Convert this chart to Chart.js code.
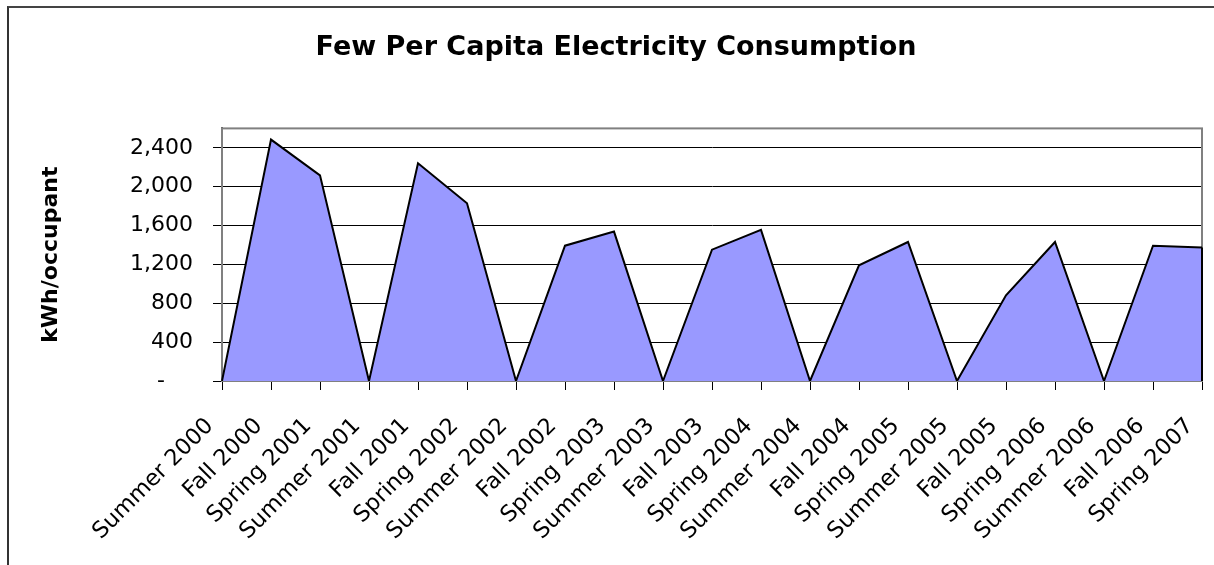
<!DOCTYPE html>
<html>
<head>
<meta charset="utf-8">
<script src="https://cdn.jsdelivr.net/npm/chart.js@4.4.1/dist/chart.umd.min.js"></script>
<style>
  html, body { margin: 0; padding: 0; background: #fff; }
  #wrap { position: relative; width: 1214px; height: 565px; overflow: hidden; }
  #frame { position: absolute; left: 7px; top: 6px; width: 1300px; height: 700px;
           border-left: 2px solid #333; border-top: 2px solid #444; box-sizing: border-box; }
  canvas { position: absolute; left: 0; top: 0; }
</style>
</head>
<body>
<div id="wrap">
  <div id="frame"></div>
  <canvas id="chart" width="1214" height="565"></canvas>
</div>
<script>
const seasons = [
  'Summer 2000', 'Fall 2000', 'Spring 2001',
  'Summer 2001', 'Fall 2001', 'Spring 2002',
  'Summer 2002', 'Fall 2002', 'Spring 2003',
  'Summer 2003', 'Fall 2003', 'Spring 2004',
  'Summer 2004', 'Fall 2004', 'Spring 2005',
  'Summer 2005', 'Fall 2005', 'Spring 2006',
  'Summer 2006', 'Fall 2006', 'Spring 2007'
];
const kwhPerOccupant = [
  0, 2485, 2117,
  0, 2241, 1829,
  0, 1393, 1538,
  0, 1352, 1555,
  0, 1191, 1431,
  0, 882, 1431,
  0, 1393, 1373
];
const yTicks = [0, 400, 800, 1200, 1600, 2000, 2400];
const yMax = 2600;

const FONT = "'DejaVu Sans', 'Liberation Sans', Arial, sans-serif";

// gray frame round the plot area, like the Excel plot border
const plotFrame = {
  id: 'plotFrame',
  beforeDatasetsDraw(chart) {
    const { ctx, chartArea: a } = chart;
    ctx.save();
    ctx.strokeStyle = '#808080';
    ctx.lineWidth = 2;
    ctx.strokeRect(a.left, a.top, a.right - a.left, a.bottom - a.top);
    ctx.restore();
  },
  afterDatasetsDraw(chart) {
    // the area outline also closes down the right edge
    const meta = chart.getDatasetMeta(0);
    const last = meta.data[meta.data.length - 1];
    const { ctx } = chart;
    ctx.save();
    ctx.strokeStyle = '#000';
    ctx.lineWidth = 2;
    ctx.beginPath();
    ctx.moveTo(last.x, last.y);
    ctx.lineTo(last.x, chart.scales.y.getPixelForValue(0));
    ctx.stroke();
    ctx.restore();
  }
};

new Chart(document.getElementById('chart'), {
  type: 'line',
  data: {
    labels: seasons,
    datasets: [{
      label: 'kWh/occupant',
      data: kwhPerOccupant,
      fill: 'origin',
      backgroundColor: '#9999FF',
      borderColor: '#000',
      borderWidth: 2,
      pointRadius: 0,
      tension: 0
    }]
  },
  options: {
    responsive: false,
    animation: false,
    layout: { padding: { left: 30, right: 12, top: 0, bottom: 0 } },
    plugins: {
      legend: { display: false },
      tooltip: { enabled: false },
      title: {
        display: true,
        text: 'Few Per Capita Electricity Consumption',
        color: '#000',
        font: { family: FONT, size: 27, weight: 'bold' },
        padding: { top: 32, bottom: 64 }
      }
    },
    scales: {
      x: {
        offset: false,
        grid: { drawOnChartArea: false, drawTicks: true, tickLength: 9, color: '#000' },
        border: { display: true, color: '#000', width: 2 },
        ticks: {
          color: '#000',
          font: { family: FONT, size: 22.5 },
          maxRotation: 45, minRotation: 45,
          autoSkip: false,
          padding: 23,
          labelOffset: -12
        },
        afterFit(scale) {
          scale.height = 184;
          scale.paddingLeft = 0;
          scale.paddingRight = 0;
        }
      },
      y: {
        min: 0,
        max: yMax,
        grid: { color: '#000', lineWidth: 1, tickLength: 9 },
        border: { display: true, color: '#555', width: 2 },
        ticks: {
          color: '#000',
          font: { family: FONT, size: 22 },
          stepSize: 400,
          padding: 20,
          callback: v => v === 0 ? '-    ' : v.toLocaleString('en-US')
        },
        afterBuildTicks(scale) {
          scale.ticks = yTicks.map(v => ({ value: v }));
        },
        title: {
          display: true,
          text: 'kWh/occupant',
          color: '#000',
          font: { family: FONT, size: 22, weight: 'bold' },
          padding: { top: 8, bottom: 0 }
        },
        afterFit(scale) { scale.width = 192; }
      }
    }
  },
  plugins: [plotFrame]
});
</script>
</body>
</html>
